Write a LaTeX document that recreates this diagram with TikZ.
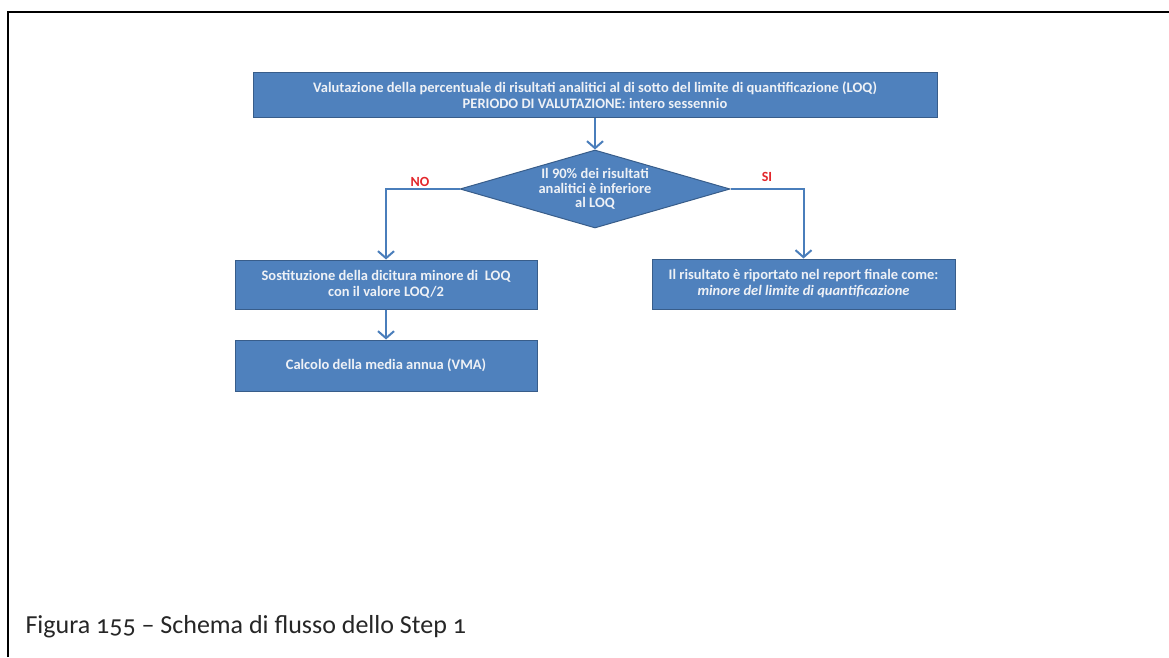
\documentclass[tikz,border=0pt]{standalone}
\usepackage{fontspec}
\setmainfont{Carlito}
\usetikzlibrary{arrows.meta,positioning,shapes.geometric}
\definecolor{boxblue}{HTML}{4F81BD}
\definecolor{boxedge}{HTML}{385D8A}
\definecolor{flowblue}{HTML}{4A7EBB}
\definecolor{yesno}{HTML}{E3262B}
\definecolor{boxtext}{HTML}{EEF1F6}

\begin{document}
\begin{tikzpicture}[
    x=1pt, y=1pt,
    >={Straight Barb[length=7pt,width=16pt]},
    stepbox/.style={draw=boxedge, line width=1pt, fill=boxblue, text=boxtext,
                    font=\fontsize{14.5}{16}\selectfont\bfseries, align=center,
                    inner sep=1pt},
    decision/.style={diamond, draw=boxedge, line width=1pt, fill=boxblue,
                     inner sep=0pt, minimum width=270pt, minimum height=78pt},
    dectext/.style={text=boxtext, font=\fontsize{14.5}{14.5}\selectfont\bfseries,
                    align=center},
    flow/.style={flowblue, line width=2pt, ->},
    answer/.style={text=yesno, font=\fontsize{14}{16}\selectfont\bfseries},
    caption/.style={font=\fontsize{26}{30}\selectfont\addfontfeatures{Numbers=OldStyle},
                    text=black!85, anchor=base west},
]
\useasboundingbox (0,0) rectangle (1169,657);

% page frame
\draw[line width=2pt] (8,0) -- (8,645) -- (1169,645);

% top box
\node[stepbox, minimum width=684pt, minimum height=45pt] (eval) at (595,561.5)
    {Valutazione della percentuale di risultati analitici al di sotto del limite di quantificazione (LOQ)\\
     PERIODO DI VALUTAZIONE: intero sessennio};

% decision
\node[decision] (test) at (595,468) {};
\node[dectext] at (test.center) {Il 90\% dei risultati\\analitici è inferiore\\al LOQ};

% branches
\node[stepbox, minimum width=302pt, minimum height=49pt] (subst) at (386,372.5)
    {Sostituzione della dicitura minore di \ LOQ\\con il valore LOQ/2};
\node[stepbox, minimum width=302pt, minimum height=51pt] (mean) at (386,291.5)
    {Calcolo della media annua (VMA)};
\node[stepbox, minimum width=303pt, minimum height=50pt] (report) at (803.5,373)
    {Il risultato è riportato nel report finale come:\\
     \textit{minore del limite di quantificazione}};

\node[answer] (no) at (420,475) {NO};
\node[answer] (si) at (767,480) {SI};

% connectors
\draw[flow] (test.north |- eval.south) -- (test.north);
\draw[flow] (test.west) -| (subst.north);
\draw[flow] (test.east) -| (report.north);
\draw[flow] (subst) -- (mean);

% caption
\node[caption] (cap) at (22,24) {Figura 155 – Schema di flusso dello Step 1};

\end{tikzpicture}
\end{document}
